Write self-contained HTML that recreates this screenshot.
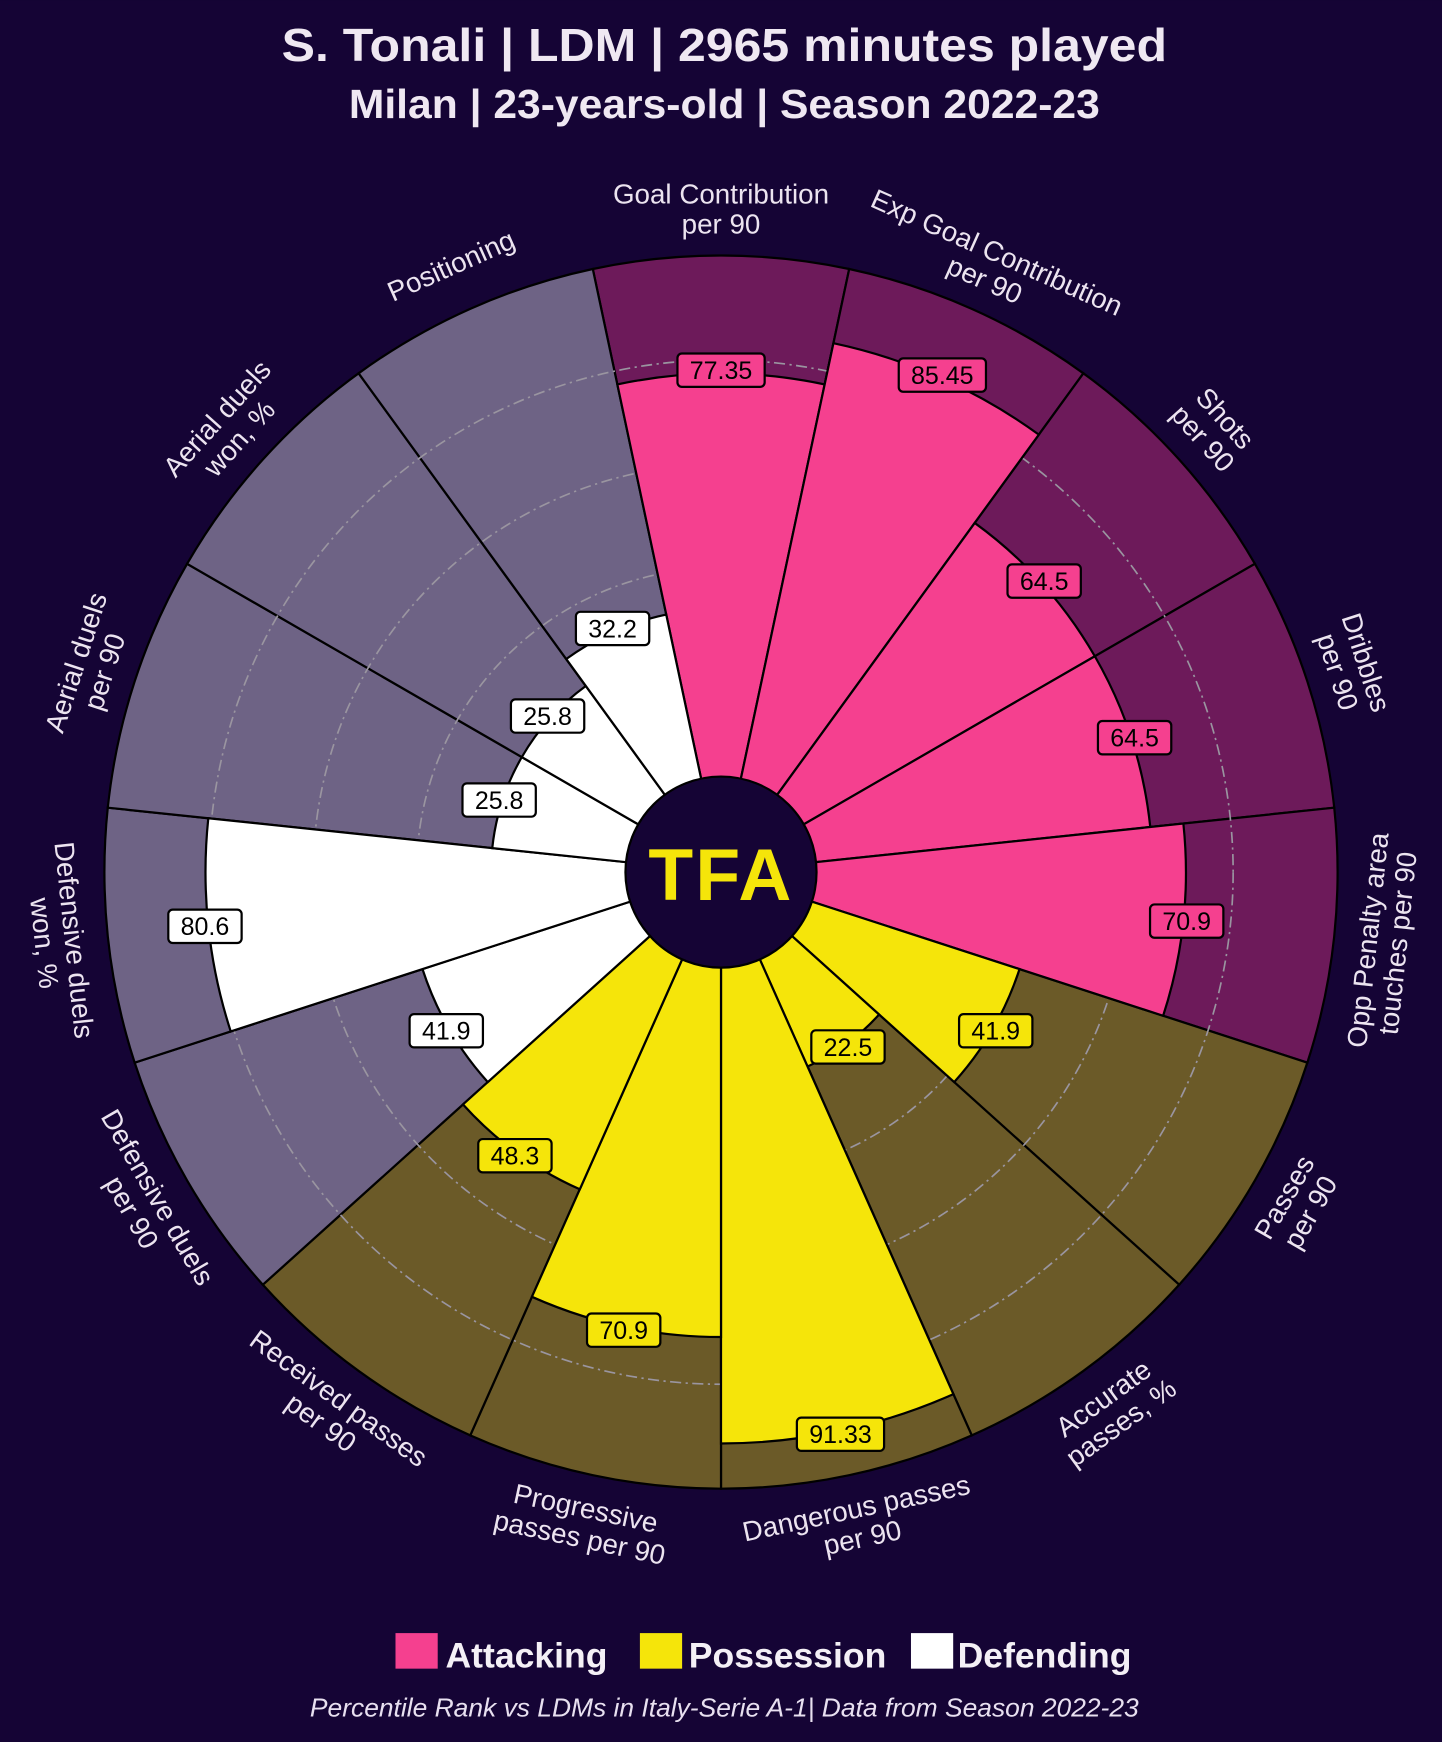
<!DOCTYPE html>
<html><head><meta charset="utf-8"><style>
html,body{margin:0;padding:0;background:#150435;}
svg{display:block}
text{font-family:"Liberation Sans",sans-serif;}
</style></head><body>
<svg id="s" width="1442" height="1742" viewBox="0 0 1298 1568" xmlns="http://www.w3.org/2000/svg">
<rect width="1298" height="1568" fill="#150435"/>
<text x="652" y="55" text-anchor="middle" font-size="42" fill="#efe8f2" font-weight="bold" textLength="797" lengthAdjust="spacingAndGlyphs">S. Tonali | LDM | 2965 minutes played</text>
<text x="652" y="106" text-anchor="middle" font-size="37" fill="#efe8f2" font-weight="bold" textLength="676" lengthAdjust="spacingAndGlyphs">Milan | 23-years-old | Season 2022-23</text>
<g id="g"></g>
<rect x="356" y="1470" width="38" height="32" fill="#f5408f"/>
<text x="401" y="1501" font-size="32" font-weight="bold" fill="#f4f0f6">Attacking</text>
<rect x="576" y="1470" width="38" height="32" fill="#f5e50a"/>
<text x="620" y="1501" font-size="32" font-weight="bold" fill="#f4f0f6">Possession</text>
<rect x="820" y="1470" width="38" height="32" fill="#ffffff"/>
<text x="862" y="1501" font-size="32" font-weight="bold" fill="#f4f0f6">Defending</text>
<text x="652" y="1545" text-anchor="middle" font-size="23" font-style="italic" fill="#e8e0f0" textLength="746" lengthAdjust="spacingAndGlyphs">Percentile Rank vs LDMs in Italy-Serie A-1| Data from Season 2022-23</text>
</svg>
<script>
var cx=649,cy=785,R=555,H=86;
var P=[["Goal Contribution","per 90",77.35,0],["Exp Goal Contribution","per 90",85.45,0],["Shots","per 90",64.5,0],["Dribbles","per 90",64.5,0],["Opp Penalty area","touches per 90",70.9,0],
["Passes","per 90",41.9,1],["Accurate","passes, %",22.5,1],["Dangerous passes","per 90",91.33,1],["Progressive","passes per 90",70.9,1],["Received passes","per 90",48.3,1],
["Defensive duels","per 90",41.9,2],["Defensive duels","won, %",80.6,2],["Aerial duels","per 90",25.8,2],["Aerial duels","won, %",25.8,2],["Positioning","",32.2,2]];
var BG=["#6d1a5a","#6b5a28","#6e6385"],FG=["#f5408f","#f5e50a","#ffffff"];
function pt(a,r){var t=a*Math.PI/180;return [cx+r*Math.sin(t),cy-r*Math.cos(t)];}
function wedge(a0,a1,r,fill){var p=pt(a0,r),q=pt(a1,r);return '<path d="M'+cx+','+cy+' L'+p[0].toFixed(1)+','+p[1].toFixed(1)+' A'+r+','+r+' 0 0 1 '+q[0].toFixed(1)+','+q[1].toFixed(1)+' Z" fill="'+fill+'" stroke="#000" stroke-width="2"/>';}
var s='';
P.forEach(function(d,i){s+=wedge(i*24-12,i*24+12,R,BG[d[3]]);});
[180,274,367,461].forEach(function(r){s+='<circle cx="'+cx+'" cy="'+cy+'" r="'+r+'" fill="none" stroke="#9a95a0" stroke-width="1.5" stroke-dasharray="10,4,2,4"/>';});
P.forEach(function(d,i){s+=wedge(i*24-12,i*24+12,H+d[2]/100*(R-H),FG[d[3]]);});
s+='<circle cx="'+cx+'" cy="'+cy+'" r="'+H+'" fill="#150435" stroke="#000" stroke-width="2"/>';
s+='<text x="'+cx+'" y="'+(cy+25)+'" text-anchor="middle" font-size="66" font-weight="bold" fill="#f5e50a" letter-spacing="2">TFA</text>';
P.forEach(function(d,i){
 var a=i*24,r=H+d[2]/100*(R-H)+3,p=pt(a,r),t=String(d[2]),w=t.length*12.5+16;
 s+='<rect x="'+(p[0]-w/2).toFixed(1)+'" y="'+(p[1]-15).toFixed(1)+'" width="'+w+'" height="30" rx="4" fill="'+FG[d[3]]+'" stroke="#000" stroke-width="2"/>';
 s+='<text x="'+p[0].toFixed(1)+'" y="'+(p[1]+8).toFixed(1)+'" text-anchor="middle" font-size="22.5" fill="#000">'+t+'</text>';
 var q=pt(a,598),rot=(a>90&&a<270)?a-180:a;
 var lines=d[1]?[d[0],d[1]]:[d[0]];
 var g='<g transform="translate('+q[0].toFixed(1)+','+q[1].toFixed(1)+') rotate('+rot+')">';
 var y0=lines.length==2?-4:9;
 lines.forEach(function(l,k){g+='<text x="0" y="'+(y0+k*27)+'" text-anchor="middle" font-size="25" fill="#ece4f0">'+l+'</text>';});
 s+=g+'</g>';
});
document.getElementById('g').innerHTML=s;
</script>
</body></html>
